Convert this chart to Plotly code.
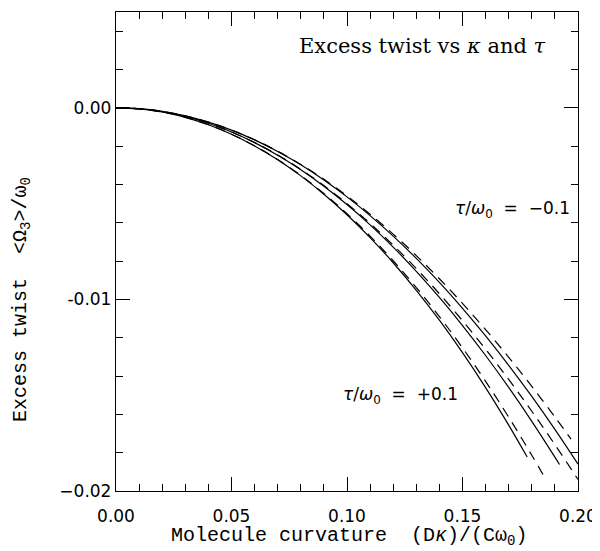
import plotly.graph_objects as go

# curvature samples
kappa = [0.00, 0.01, 0.02, 0.03, 0.04, 0.05, 0.06, 0.07, 0.08, 0.09, 0.10,
         0.11, 0.12, 0.13, 0.14, 0.15, 0.16, 0.17, 0.18, 0.19, 0.20]

# solid curves (tau/omega0 = -0.1, 0, +0.1)
solid_top = [0, -0.0000465, -0.000186, -0.000419, -0.000744, -0.001163, -0.001674,
             -0.002279, -0.002976, -0.003767, -0.00465, -0.005627, -0.006696,
             -0.007859, -0.009114, -0.010463, -0.011904, -0.013439, -0.015066,
             -0.016787, -0.0186]
kappa_mid = kappa[:20] + [0.192]
solid_mid = [0, -0.0000505, -0.000202, -0.000455, -0.000808, -0.001263, -0.001818,
             -0.002475, -0.003232, -0.004091, -0.00505, -0.006111, -0.007272,
             -0.008535, -0.009898, -0.011363, -0.012928, -0.014595, -0.016362,
             -0.018231, -0.018616]
kappa_bot = kappa[:18] + [0.178]
solid_bot = [0, -0.000055, -0.00022, -0.000496, -0.000882, -0.00138, -0.00199,
             -0.002714, -0.003553, -0.004508, -0.00558, -0.006772, -0.008086,
             -0.009523, -0.011087, -0.01278, -0.014604, -0.016563, -0.018229]

# dashed curves
kappa_dtop = kappa[:20] + [0.197]
dashed_top = [0, -0.0000465, -0.000186, -0.000419, -0.000743, -0.00116, -0.001667,
              -0.002267, -0.002956, -0.003734, -0.0046, -0.005554, -0.006592,
              -0.007716, -0.008922, -0.01021, -0.011576, -0.013021, -0.014541,
              -0.016135, -0.017293]
dashed_mid = [0, -0.0000505, -0.000202, -0.000455, -0.000808, -0.00126, -0.001811,
              -0.002463, -0.003212, -0.004058, -0.005, -0.006038, -0.007168,
              -0.008392, -0.009706, -0.01111, -0.0126, -0.014177, -0.015837,
              -0.01758, -0.0194]
kappa_dbot = kappa[:19] + [0.186]
dashed_bot = [0, -0.000055, -0.00022, -0.000496, -0.000882, -0.001377, -0.001983,
              -0.002702, -0.003533, -0.004475, -0.00553, -0.006699, -0.007982,
              -0.00938, -0.010895, -0.012527, -0.014276, -0.016145, -0.018135,
              -0.019387]

x_tickvals = [0.0, 0.05, 0.10, 0.15, 0.20]
x_ticktext = ["0.00", "0.05", "0.10", "0.15", "0.20"]
y_tickvals = [0.0, -0.01, -0.02]
y_ticktext = ["0.00", "-0.01", "\u22120.02"]

fig = go.Figure()
for xs, ys in [(kappa, solid_top), (kappa_mid, solid_mid), (kappa_bot, solid_bot)]:
    fig.add_trace(go.Scatter(x=xs, y=ys, mode="lines", line=dict(color="black", width=1.2, shape="spline"),
                             showlegend=False, hoverinfo="skip"))
for xs, ys in [(kappa_dtop, dashed_top), (kappa, dashed_mid), (kappa_dbot, dashed_bot)]:
    fig.add_trace(go.Scatter(x=xs, y=ys, mode="lines",
                             line=dict(color="black", width=1.2, dash="10px,7px", shape="spline"),
                             showlegend=False, hoverinfo="skip"))

tickfont = dict(family="DejaVu Sans, Liberation Sans, sans-serif", size=17, color="black")
monofont = dict(family="Liberation Mono, Courier New, monospace", size=20, color="black")
labfont = dict(family="DejaVu Sans, Liberation Sans, sans-serif", size=17, color="black")

fig.update_xaxes(range=[0, 0.2], tickvals=x_tickvals, ticktext=x_ticktext,
                 ticks="inside", ticklen=14, tickwidth=1, tickcolor="black",
                 minor=dict(dtick=0.01, ticks="inside", ticklen=7, tickcolor="black", tickwidth=1),
                 showline=True, linecolor="black", linewidth=1.3, mirror="allticks",
                 showgrid=False, zeroline=False, tickfont=tickfont, automargin=False,
                 ticklabelstandoff=9)
fig.update_yaxes(range=[-0.02, 0.005], tickvals=y_tickvals, ticktext=y_ticktext,
                 ticks="inside", ticklen=14, tickwidth=1, tickcolor="black",
                 minor=dict(dtick=0.002, tick0=0, ticks="inside", ticklen=7, tickcolor="black", tickwidth=1),
                 showline=True, linecolor="black", linewidth=1.3, mirror="allticks",
                 showgrid=False, zeroline=False, tickfont=tickfont, automargin=False)

# axis titles
fig.add_annotation(x=0.506, y=-0.096, xref="paper", yref="paper", showarrow=False,
                   xanchor="center", yanchor="middle",
                   text="Molecule curvature  (D<i>\u03ba</i>)/(C\u03c9<sub>0</sub>)", font=monofont)
fig.add_annotation(x=-0.2045, y=0.40, xref="paper", yref="paper", showarrow=False, textangle=-90,
                   xanchor="center", yanchor="middle",
                   text="Excess twist  &lt;\u03a9<sub>3</sub>&gt;/\u03c9<sub>0</sub>",
                   font=dict(family="Liberation Mono, Courier New, monospace", size=20, color="black"))

fig.add_annotation(x=0.1325, y=0.00325, xref="x", yref="y", showarrow=False,
                   text="Excess twist vs <i>\u03ba</i> and <i>\u03c4</i>",
                   font=dict(family="DejaVu Serif, Liberation Serif, serif", size=21, color="black"))
fig.add_annotation(x=0.1715, y=-0.0053, xref="x", yref="y", showarrow=False,
                   text="<i>\u03c4</i>/<i>\u03c9</i><sub>0</sub>  =  \u22120.1", font=labfont)
fig.add_annotation(x=0.123, y=-0.0150, xref="x", yref="y", showarrow=False,
                   text="<i>\u03c4</i>/<i>\u03c9</i><sub>0</sub>  =  +0.1", font=labfont)

# margins compensate for the page's default 8px body margin
fig.update_layout(width=600, height=551, margin=dict(l=108, r=30, t=4, b=68),
                  plot_bgcolor="white", paper_bgcolor="white")
fig.write_html("out.html")
